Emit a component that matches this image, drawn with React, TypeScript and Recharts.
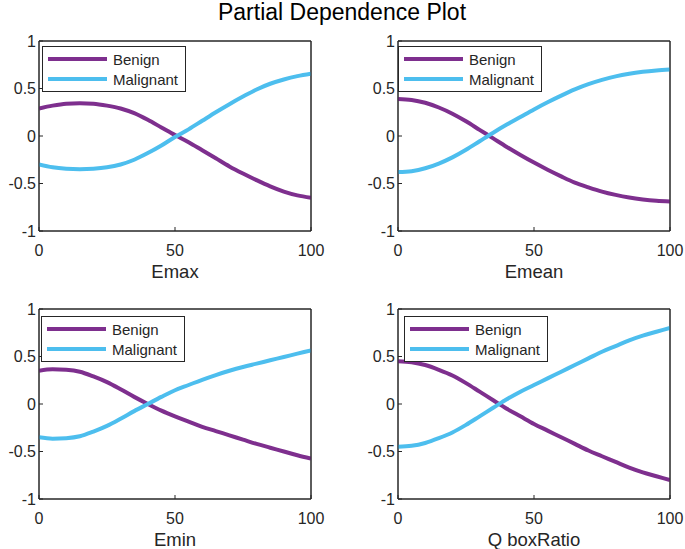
import { useMemo } from "react"
import { LineChart, Line, XAxis, YAxis, Legend, ReferenceArea } from "recharts"

const FONT = "'Liberation Sans', Arial, Helvetica, sans-serif"
const INK = "#262626"
const BENIGN_COLOR = "#7E2F8E"
const MALIGNANT_COLOR = "#4DBEEE"

// feature grid (percent of feature range)
const xValues = [0, 5, 10, 15, 20, 25, 30, 35, 40, 45, 50, 55, 60, 65, 70, 75, 80, 85, 90, 95, 100]
const xTicks = [0, 50, 100]
const yTicks = [-1, -0.5, 0, 0.5, 1]

const emaxBenign = [0.29, 0.32, 0.34, 0.345, 0.34, 0.32, 0.29, 0.24, 0.17, 0.09, 0.01, -0.065, -0.15, -0.235, -0.32, -0.395, -0.465, -0.53, -0.585, -0.625, -0.65]
const emaxMalignant = [-0.3, -0.33, -0.345, -0.35, -0.345, -0.33, -0.3, -0.25, -0.18, -0.1, -0.01, 0.07, 0.16, 0.25, 0.335, 0.415, 0.49, 0.55, 0.595, 0.63, 0.655]

const emeanBenign = [0.39, 0.38, 0.35, 0.3, 0.235, 0.155, 0.065, -0.025, -0.115, -0.2, -0.28, -0.355, -0.425, -0.49, -0.54, -0.585, -0.62, -0.648, -0.668, -0.682, -0.69]
const emeanMalignant = [-0.38, -0.37, -0.34, -0.29, -0.225, -0.145, -0.055, 0.035, 0.12, 0.2, 0.28, 0.355, 0.425, 0.49, 0.545, 0.59, 0.628, 0.656, 0.676, 0.69, 0.7]

const eminBenign = [0.35, 0.365, 0.36, 0.34, 0.29, 0.23, 0.155, 0.075, 0.0, -0.07, -0.13, -0.185, -0.24, -0.285, -0.33, -0.375, -0.42, -0.46, -0.5, -0.54, -0.575]
const eminMalignant = [-0.35, -0.365, -0.36, -0.34, -0.29, -0.23, -0.155, -0.075, 0.0, 0.075, 0.145, 0.2, 0.255, 0.305, 0.35, 0.39, 0.425, 0.46, 0.495, 0.53, 0.565]

const qboxBenign = [0.45, 0.44, 0.41, 0.36, 0.3, 0.22, 0.13, 0.04, -0.05, -0.13, -0.21, -0.28, -0.35, -0.42, -0.49, -0.55, -0.61, -0.67, -0.72, -0.76, -0.8]
const qboxMalignant = [-0.45, -0.44, -0.41, -0.36, -0.3, -0.22, -0.13, -0.04, 0.05, 0.13, 0.2, 0.27, 0.34, 0.41, 0.48, 0.55, 0.61, 0.67, 0.72, 0.76, 0.8]

// plot-box placement of each subplot (page pixels)
const PLOT_W = 272
const PLOT_H = 190
const AXIS_W = 39
const TOP_PAD = 30
const RIGHT_PAD = 20
const XAXIS_H = 50

const panels = [
  { label: "Emax", benign: emaxBenign, malignant: emaxMalignant, left: 39, top: 41, legendDx: 3, legendDy: 5 },
  { label: "Emean", benign: emeanBenign, malignant: emeanMalignant, left: 398, top: 41, legendDx: 0, legendDy: 5 },
  { label: "Emin", benign: eminBenign, malignant: eminMalignant, left: 39, top: 309, legendDx: 2, legendDy: 7 },
  { label: "Q boxRatio", benign: qboxBenign, malignant: qboxMalignant, left: 398, top: 309, legendDx: 6, legendDy: 7 },
]

function LegendBox({ payload }: any) {
  const items = payload ?? []
  return (
    <div
      style={{
        border: `1px solid ${INK}`,
        background: "#fff",
        width: 142,
        height: 42,
        paddingTop: 2,
        boxSizing: "content-box",
        fontFamily: FONT,
        fontSize: 15,
        color: INK,
      }}
    >
      {items.map((item: any) => (
        <div key={item.value} style={{ display: "flex", alignItems: "center", height: 20 }}>
          <svg width={70} height={20} style={{ display: "block" }}>
            <line x1={5} x2={64} y1={10} y2={10} stroke={item.color} strokeWidth={4} />
          </svg>
          <span>{item.value}</span>
        </div>
      ))}
    </div>
  )
}

function Panel({ label, benign, malignant, left, top, legendDx, legendDy }: (typeof panels)[number]) {
  const data = useMemo(
    () => xValues.map((x, i) => ({ x, benign: benign[i], malignant: malignant[i] })),
    [benign, malignant]
  )

  const tickStyle = { fill: INK, fontSize: 16, fontFamily: FONT }
  const axisLine = { stroke: INK, strokeWidth: 1 }
  const tickLine = { stroke: INK, strokeWidth: 1 }

  // the top and right axes only carry the inward ticks of the box; they take 1px each
  return (
    <div style={{ position: "absolute", left: left - AXIS_W, top: top - TOP_PAD }}>
      <LineChart
        width={AXIS_W + PLOT_W + RIGHT_PAD}
        height={TOP_PAD + PLOT_H + XAXIS_H}
        data={data}
        margin={{ top: TOP_PAD - 1, right: RIGHT_PAD - 1, bottom: 0, left: 0 }}
      >
        <XAxis
          dataKey="x"
          type="number"
          domain={[0, 100]}
          ticks={xTicks}
          height={XAXIS_H}
          axisLine={axisLine}
          tickLine={tickLine}
          tickSize={-4}
          tickMargin={18}
          tick={tickStyle}
          allowDataOverflow
          label={{ value: label, position: "insideBottom", offset: 3, fill: INK, fontSize: 18.5, fontFamily: FONT }}
        />
        <XAxis
          xAxisId="top"
          dataKey="x"
          orientation="top"
          type="number"
          domain={[0, 100]}
          ticks={xTicks}
          height={1}
          axisLine={axisLine}
          tickLine={tickLine}
          tickSize={-4}
          tick={false}
          allowDataOverflow
        />
        <YAxis
          type="number"
          domain={[-1, 1]}
          ticks={yTicks}
          width={AXIS_W}
          axisLine={axisLine}
          tickLine={tickLine}
          tickSize={-4}
          tickMargin={7}
          tick={tickStyle}
          allowDataOverflow
        />
        <YAxis
          yAxisId="right"
          orientation="right"
          type="number"
          domain={[-1, 1]}
          ticks={yTicks}
          width={1}
          axisLine={axisLine}
          tickLine={tickLine}
          tickSize={-4}
          tick={false}
          allowDataOverflow
        />
        <ReferenceArea x1={0} x2={100} y1={-1} y2={1} fill="none" stroke={INK} strokeWidth={1} ifOverflow="visible" />
        <Legend
          layout="vertical"
          align="center"
          verticalAlign="middle"
          wrapperStyle={{ left: AXIS_W + legendDx, top: TOP_PAD + legendDy, width: 144 }}
          content={(props: any) => <LegendBox payload={props.payload} />}
        />
        <Line
          dataKey="benign"
          name="Benign"
          type="monotone"
          stroke={BENIGN_COLOR}
          strokeWidth={4}
          dot={false}
          isAnimationActive={false}
        />
        <Line
          dataKey="malignant"
          name="Malignant"
          type="monotone"
          stroke={MALIGNANT_COLOR}
          strokeWidth={4}
          dot={false}
          isAnimationActive={false}
        />
      </LineChart>
    </div>
  )
}

export default function App() {
  return (
    <div style={{ position: "absolute", left: 0, top: 0, width: 685, height: 549, background: "#fff", overflow: "hidden" }}>
      <div
        style={{
          position: "absolute",
          left: 0,
          width: 684,
          top: 1,
          textAlign: "center",
          fontFamily: FONT,
          fontSize: 23,
          lineHeight: 1,
          color: "#000",
        }}
      >
        Partial Dependence Plot
      </div>
      {panels.map((p) => (
        <Panel key={p.label} {...p} />
      ))}
    </div>
  )
}
